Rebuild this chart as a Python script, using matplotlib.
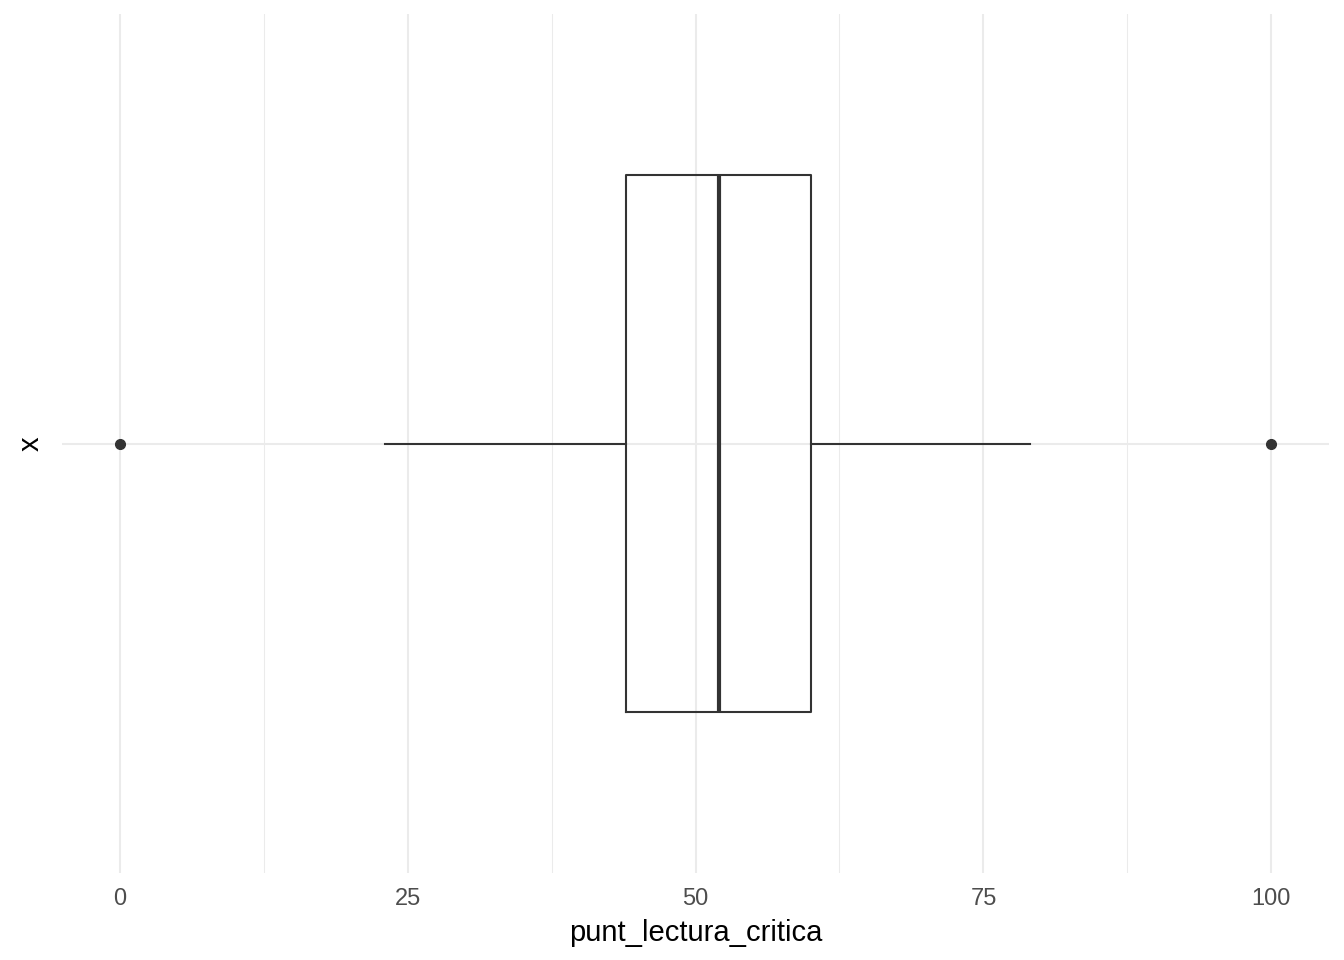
import matplotlib
matplotlib.use("Agg")
import matplotlib.pyplot as plt

plt.rcParams["font.family"] = ["Liberation Sans", "DejaVu Sans"]

# box summary for punt_lectura_critica
whisker_low = 23
q1 = 44
median = 52
q3 = 60
whisker_high = 79
outliers = [0, 100]

x_ticks = [0, 25, 50, 75, 100]
x_minor = [12.5, 37.5, 62.5, 87.5]

fig = plt.figure(figsize=(13.44, 9.6), dpi=100)
ax = fig.add_axes([62 / 1344, 87 / 960, (1329 - 62) / 1344, (873 - 14) / 960])

grid_col = "#EBEBEB"
ink = "#333333"

for v in x_ticks:
    ax.axvline(v, color=grid_col, lw=1.5, zorder=0)
for v in x_minor:
    ax.axvline(v, color=grid_col, lw=0.75, zorder=0)
ax.axhline(1, color=grid_col, lw=1.5, zorder=0)

stats = [{
    "whislo": whisker_low, "q1": q1, "med": median, "q3": q3,
    "whishi": whisker_high, "fliers": outliers,
}]
ax.bxp(
    stats, positions=[1], widths=0.75, vert=False, showcaps=False,
    boxprops=dict(color=ink, linewidth=1.5),
    whiskerprops=dict(color=ink, linewidth=1.5),
    medianprops=dict(color=ink, linewidth=3.0),
    flierprops=dict(marker="o", markerfacecolor=ink, markeredgecolor=ink,
                    markersize=7),
)

ax.set_xlim(-5, 105)
ax.set_ylim(0.4, 1.6)
ax.set_xticks(x_ticks)
ax.set_xticklabels([str(v) for v in x_ticks])
ax.set_yticks([])
for s in ax.spines.values():
    s.set_visible(False)
ax.tick_params(axis="x", length=0, pad=11, labelsize=17, labelcolor="#4D4D4D")

ax.set_xlabel("punt_lectura_critica", fontsize=21, color="black", labelpad=6)
ax.set_ylabel("x", fontsize=21, color="black", labelpad=12.5)

fig.savefig("out.png", dpi=100, facecolor="white")
